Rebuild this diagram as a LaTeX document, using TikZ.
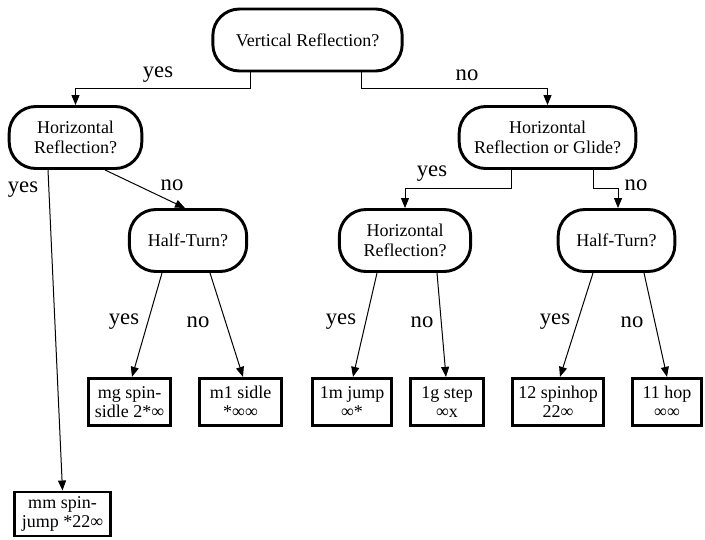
\documentclass[tikz,border=0pt]{standalone}
\usepackage{fontspec}
\setmainfont{Liberation Serif}
\usetikzlibrary{arrows.meta,calc}
\begin{document}
\begin{tikzpicture}[x=0.75pt,y=-0.75pt,
  decision/.style={draw, line width=2.2pt, rounded corners=20pt, inner sep=0pt, align=center,
    minimum height=46.5pt, font=\fontsize{13.5}{14.5}\selectfont},
  leaf/.style={draw, line width=2.2pt, inner sep=0pt, align=center,
    minimum height=35.5pt, font=\fontsize{13.5}{14}\selectfont},
  conn/.style={line width=0.75pt, -{Triangle[length=7.5pt,width=6pt]}},
  lbl/.style={font=\fontsize{17}{17}\selectfont, inner sep=0pt}]
\useasboundingbox (0,0) rectangle (705,539);

% decision nodes
\node[decision, minimum width=142pt] (top) at (307.5,40) {Vertical Reflection?};
\node[decision, minimum width=99.5pt] (hr1) at (75.5,137.5) {Horizontal\\Reflection?};
\node[decision, minimum width=132.5pt] (hrg) at (547.5,137.5) {Horizontal\\Reflection or Glide?};
\node[decision, minimum width=88pt] (ht1) at (188,240.5) {Half-Turn?};
\node[decision, minimum width=98.5pt] (hr2) at (405,240.5) {Horizontal\\Reflection?};
\node[decision, minimum width=87.5pt] (ht2) at (616.5,240.5) {Half-Turn?};

% leaves
\node[leaf, minimum width=62pt] (mg) at (129.5,402) {mg spin-\\sidle 2*∞};
\node[leaf, minimum width=62pt] (m1) at (240.5,402) {m1 sidle\\*∞∞};
\node[leaf, minimum width=59.5pt] (j1m) at (352,402) {1m jump\\∞*};
\node[leaf, minimum width=55pt] (g1) at (447,402) {1g step\\∞x};
\node[leaf, minimum width=68.5pt] (s12) at (558,402) {12 spinhop\\22∞};
\node[leaf, minimum width=52pt] (h11) at (667,402) {11 hop\\∞∞};
\node[leaf, minimum width=72pt, minimum height=33pt] (mm) at (62.5,514) {mm spin-\\jump *22∞};

% connectors
\draw[conn] ($(top.south)+(-57.5,0)$) -- ++(0,16) -| (hr1.north);
\draw[conn] ($(top.south)+(53.5,0)$) -- ++(0,16) -| (hrg.north);
\draw[conn] ($(hr1.south)+(-27.5,0)$) -- (mm.north);
\draw[conn] ($(hr1.south)+(29.5,0)$) -- ($(ht1.north)+(-3,0)$);
\draw[conn] ($(hrg.south)+(-36.5,0)$) -- ++(0,19) -| (hr2.north);
\draw[conn] ($(hrg.south)+(45.5,0)$) -- ++(0,19) -| ($(ht2.north)+(1.5,0)$);
\draw[conn] ($(ht1.south)+(-26,0)$) -- ($(mg.north)+(2.5,0)$);
\draw[conn] ($(ht1.south)+(22,0)$) -- ($(m1.north)+(2.5,0)$);
\draw[conn] ($(hr2.south)+(-28,0)$) -- ($(j1m.north)+(1,0)$);
\draw[conn] ($(hr2.south)+(32,0)$) -- ($(g1.north)+(-1,0)$);
\draw[conn] ($(ht2.south)+(-23.5,0)$) -- ($(s12.north)+(2,0)$);
\draw[conn] ($(ht2.south)+(27.5,0)$) -- (h11.north);

% labels
\node[lbl] (l1) at (158,75) {yes};
\node[lbl] (l2) at (467,75) {no};
\node[lbl] (l3) at (23,190) {yes};
\node[lbl] (l4) at (172,185) {no};
\node[lbl] (l5) at (432,174) {yes};
\node[lbl] (l6) at (636,185) {no};
\node[lbl] (l7) at (124,322) {yes};
\node[lbl] (l8) at (198,322) {no};
\node[lbl] (l9) at (341,322) {yes};
\node[lbl] (l10) at (422,322) {no};
\node[lbl] (l11) at (555,322) {yes};
\node[lbl] (l12) at (632,322) {no};
\end{tikzpicture}
\end{document}
